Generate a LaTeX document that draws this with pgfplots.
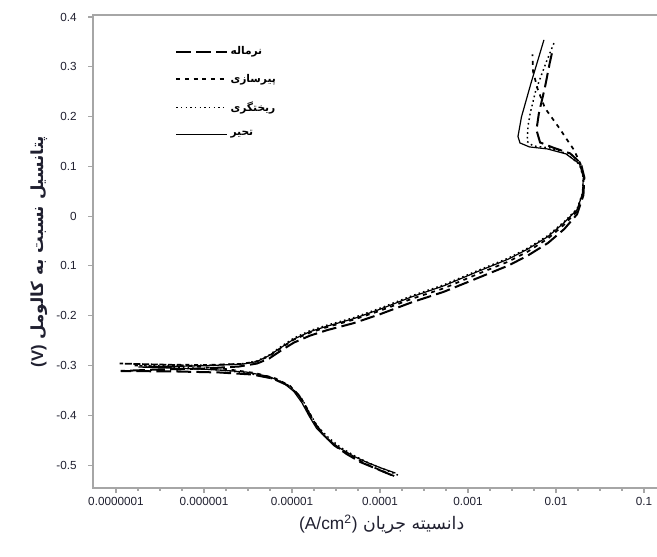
\documentclass[border=0pt]{standalone}
\usepackage{pgfplots}
\pgfplotsset{compat=1.18}
\usepackage{fontspec}
\setmainfont{Liberation Sans}
\newfontfamily\arabicfont[Script=Arabic]{DejaVu Sans}
\TeXXeTstate=1
\definecolor{axgray}{HTML}{A6A6A6}
\definecolor{ticktext}{HTML}{202030}

\begin{document}
\begin{tikzpicture}
\begin{axis}[
    at={(0,0)}, anchor=south west,
    scale only axis,
    width=433.1pt, height=354.75pt,
    xmode=log,
    xmin=5.48e-8, xmax=0.2,
    ymin=-0.546, ymax=0.404,
    axis line style={axgray, line width=0.9pt},
    tick style={axgray, line width=0.8pt},
    tick align=outside,
    xtick pos=bottom, ytick pos=left,
    major tick length=3.75pt, minor tick length=2.2pt,
    xtick={1e-7,1e-6,1e-5,1e-4,1e-3,1e-2,1e-1},
    xticklabels={0.0000001,0.000001,0.00001,0.0001,0.001,0.01,0.1},
    minor xtick={1.778e-7,3.162e-7,5.623e-7,1.778e-6,3.162e-6,5.623e-6,
                 1.778e-5,3.162e-5,5.623e-5,1.778e-4,3.162e-4,5.623e-4,
                 1.778e-3,3.162e-3,5.623e-3,1.778e-2,3.162e-2,5.623e-2,0.1778},
    ytick={-0.5,-0.4,-0.3,-0.2,-0.1,0,0.1,0.2,0.3,0.4},
    yticklabels={-0.5,-0.4,-0.3,-0.2,0.1,0,0.1,0.2,0.3,0.4},
    tick label style={font=\fontsize{8.8}{10}\selectfont, text=ticktext},
    yticklabel style={xshift=-5pt},
    xlabel={\arabicfont\beginR دانسیته جریان \beginL{\rmfamily(A/cm\textsuperscript{2})}\endL\endR},
    ylabel={\arabicfont\bfseries\beginR پتانسیل نسبت به کالومل \beginL{\rmfamily(V)}\endL\endR},
    xlabel style={font=\fontsize{13}{15}\selectfont, text=ticktext},
    ylabel style={font=\fontsize{12.5}{14}\selectfont, text=ticktext},
    legend style={at={(axis description cs:0.135,0.945)}, anchor=north west,
                  draw=none, fill=none, row sep=9pt,
                  font=\arabicfont\bfseries\fontsize{8}{9}\selectfont},
    legend cell align=left,
    legend image code/.code={\draw[#1] (0pt,0pt) -- (38pt,0pt);},
]
% نرماله (long dashed)
\addplot[black, line width=1.5pt, dash pattern=on 11pt off 4pt] coordinates {
(1.35e-4,-0.520) (9e-5,-0.507) (6e-5,-0.494) (4.2e-5,-0.478) (3e-5,-0.460)
(2.2e-5,-0.436) (1.75e-5,-0.412) (1.45e-5,-0.385) (1.2e-5,-0.360) (9e-6,-0.340)
(6e-6,-0.326) (3.5e-6,-0.318) (1.5e-6,-0.314) (5e-7,-0.312) (1.13e-7,-0.311)
(3e-7,-0.308) (1e-6,-0.306) (2.5e-6,-0.302) (4e-6,-0.296) (5.5e-6,-0.286)
(7.5e-6,-0.270) (1.05e-5,-0.254) (1.6e-5,-0.240) (2.5e-5,-0.229) (5e-5,-0.215)
(1e-4,-0.197) (2.3e-4,-0.173) (5.3e-4,-0.152) (1.26e-3,-0.125) (2.9e-3,-0.099)
(4.8e-3,-0.079) (8.1e-3,-0.054) (1.24e-2,-0.026) (1.74e-2,0.004) (2.05e-2,0.042)
(2.1e-2,0.078) (1.92e-2,0.106) (1.45e-2,0.126) (9.5e-3,0.137) (6.6e-3,0.148)
(6e-3,0.173) (6.4e-3,0.207) (7.5e-3,0.259) (8.5e-3,0.308) (9.2e-3,0.335)
};
\addlegendentry{\beginR نرماله\endR}
% پیرسازی (short dashed)
\addplot[black, line width=1.3pt, dash pattern=on 3pt off 3.5pt] coordinates {
(1.45e-4,-0.522) (1e-4,-0.510) (6.8e-5,-0.497) (4.6e-5,-0.481) (3.2e-5,-0.463)
(2.3e-5,-0.440) (1.8e-5,-0.414) (1.5e-5,-0.388) (1.25e-5,-0.363) (9.5e-6,-0.341)
(6.5e-6,-0.326) (3.8e-6,-0.315) (1.6e-6,-0.306) (5e-7,-0.299) (1.1e-7,-0.296)
(3e-7,-0.298) (1e-6,-0.299) (2.6e-6,-0.297) (4e-6,-0.292) (5.5e-6,-0.281)
(7.5e-6,-0.265) (1.05e-5,-0.248) (1.6e-5,-0.234) (2.5e-5,-0.223) (5e-5,-0.208)
(1e-4,-0.190) (2.3e-4,-0.166) (5.3e-4,-0.145) (1.26e-3,-0.117) (2.9e-3,-0.091)
(4.8e-3,-0.071) (8.1e-3,-0.045) (1.24e-2,-0.017) (1.74e-2,0.010) (2.02e-2,0.044)
(2.07e-2,0.078) (1.9e-2,0.105) (1.6e-2,0.133) (1.09e-2,0.177) (7.5e-3,0.217)
(6.2e-3,0.255) (5.5e-3,0.290) (5.4e-3,0.325)
};
\addlegendentry{\beginR پیرسازی\endR}
% ریختگری (dotted)
\addplot[black, line width=1.1pt, dash pattern=on 1.2pt off 2.3pt] coordinates {
(1.6e-4,-0.520) (1.1e-4,-0.508) (7.5e-5,-0.496) (5.2e-5,-0.482) (3.6e-5,-0.465)
(2.6e-5,-0.445) (1.95e-5,-0.422) (1.6e-5,-0.397) (1.35e-5,-0.372) (1.05e-5,-0.349)
(7.5e-6,-0.332) (4.5e-6,-0.320) (2e-6,-0.311) (6e-7,-0.304) (1.6e-7,-0.300)
(4e-7,-0.300) (1.2e-6,-0.299) (2.8e-6,-0.296) (4e-6,-0.291) (5.5e-6,-0.279)
(7.5e-6,-0.262) (1.05e-5,-0.245) (1.6e-5,-0.230) (2.5e-5,-0.219) (5e-5,-0.204)
(1e-4,-0.185) (2.3e-4,-0.160) (5.3e-4,-0.138) (1.26e-3,-0.110) (2.9e-3,-0.084)
(4.8e-3,-0.064) (8.1e-3,-0.039) (1.24e-2,-0.011) (1.74e-2,0.015) (2.0e-2,0.046)
(2.04e-2,0.078) (1.85e-2,0.104) (1.3e-2,0.126) (8.5e-3,0.137) (5.5e-3,0.141)
(4.7e-3,0.150) (4.8e-3,0.180) (5.1e-3,0.207) (5.9e-3,0.253) (7.7e-3,0.308)
(9.6e-3,0.350)
};
\addlegendentry{\beginR ریختگری\endR}
% تحیر (solid)
\addplot[black, line width=0.9pt] coordinates {
(1.5e-4,-0.516) (1e-4,-0.505) (7e-5,-0.494) (5e-5,-0.482) (3.5e-5,-0.466)
(2.5e-5,-0.447) (1.9e-5,-0.426) (1.55e-5,-0.400) (1.3e-5,-0.375) (1.05e-5,-0.352)
(8e-6,-0.335) (5.5e-6,-0.322) (3e-6,-0.313) (1.2e-6,-0.308) (4e-7,-0.305)
(1.8e-7,-0.303) (4e-7,-0.302) (1.2e-6,-0.300) (2.8e-6,-0.297) (4e-6,-0.292)
(5.5e-6,-0.280) (7.5e-6,-0.264) (1.05e-5,-0.247) (1.6e-5,-0.232) (2.5e-5,-0.221)
(5e-5,-0.206) (1e-4,-0.187) (2.3e-4,-0.162) (5.3e-4,-0.140) (1.26e-3,-0.112)
(2.9e-3,-0.086) (4.8e-3,-0.066) (8.1e-3,-0.041) (1.24e-2,-0.013) (1.74e-2,0.013)
(2.0e-2,0.045) (2.05e-2,0.078) (1.85e-2,0.105) (1.3e-2,0.125) (8e-3,0.135)
(5e-3,0.139) (3.9e-3,0.147) (3.7e-3,0.160) (4.05e-3,0.199) (5.2e-3,0.267)
(7.3e-3,0.354)
};
\addlegendentry{\beginR تحیر\endR}
\end{axis}
\pgfresetboundingbox
\path (-69.75pt,-51.75pt) rectangle (423pt,366pt);
\end{tikzpicture}
\end{document}
